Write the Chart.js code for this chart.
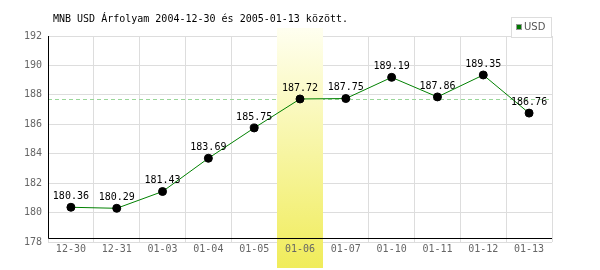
<!DOCTYPE html>
<html>
<head>
<meta charset="utf-8">
<script src="https://cdn.jsdelivr.net/npm/chart.js@4/dist/chart.umd.min.js"></script>
<style>
  html, body { margin: 0; padding: 0; background: #fff; }
  canvas { display: block; }
</style>
</head>
<body>
<canvas id="rateChart" width="600" height="270"></canvas>
<script>
// chart data
const titleText = 'MNB USD Árfolyam 2004-12-30 és 2005-01-13 között.';
const seriesName = 'USD';
const dates = ['12-30', '12-31', '01-03', '01-04', '01-05', '01-06', '01-07', '01-10', '01-11', '01-12', '01-13'];
const rates = [180.36, 180.29, 181.43, 183.69, 185.75, 187.72, 187.75, 189.19, 187.86, 189.35, 186.76];
const yTicks = [178, 180, 182, 184, 186, 188, 190, 192];
const refRate = 187.72;      // dashed reference line
const highlightIndex = 5;    // 01-06 column

const MONO = '"DejaVu Sans Mono", monospace';

// background / decorations drawn by hand
const decorations = {
    id: 'decorations',
    beforeDatasetsDraw(chart) {
        const { ctx, chartArea, scales } = chart;
        const x = scales.x, y = scales.y;

        // dashed reference line
        const ry = y.getPixelForValue(refRate);
        ctx.save();
        ctx.strokeStyle = '#99d699';
        ctx.lineWidth = 1;
        ctx.setLineDash([4, 3]);
        ctx.beginPath();
        ctx.moveTo(chartArea.left, Math.round(ry) + 0.5);
        ctx.lineTo(chartArea.right, Math.round(ry) + 0.5);
        ctx.stroke();
        ctx.restore();

        // highlighted column
        const cw = (chartArea.right - chartArea.left) / dates.length;
        const cx = x.getPixelForValue(highlightIndex);
        const left = Math.round(cx - cw / 2), w = Math.round(cw);
        const top = 28, bottom = chart.height - 2;
        const g = ctx.createLinearGradient(0, top, 0, bottom);
        g.addColorStop(0, 'rgba(255,255,240,1)');
        g.addColorStop(1, 'rgba(240,236,90,1)');
        ctx.save();
        ctx.fillStyle = g;
        ctx.fillRect(left, top, w, bottom - top);
        // redraw the tick label on top of the highlight
        ctx.beginPath();
        ctx.rect(left, top, w, bottom - top);
        ctx.clip();
        x.drawLabels(chartArea);
        ctx.restore();

        // black axis lines
        const axisY = chartArea.bottom - 4;
        ctx.save();
        ctx.strokeStyle = '#000';
        ctx.lineWidth = 1;
        ctx.beginPath();
        ctx.moveTo(chartArea.left + 0.5, chartArea.top);
        ctx.lineTo(chartArea.left + 0.5, axisY + 0.5);
        ctx.lineTo(chartArea.right, axisY + 0.5);
        ctx.stroke();
        ctx.restore();
    },
    afterDatasetsDraw(chart) {
        const { ctx } = chart;
        const meta = chart.getDatasetMeta(0);
        ctx.save();
        ctx.font = '10px ' + MONO;
        ctx.fillStyle = '#000';
        ctx.textAlign = 'center';
        ctx.textBaseline = 'middle';
        meta.data.forEach((pt, i) => {
            ctx.fillText(rates[i].toFixed(2), pt.x, pt.y - 11);
        });
        ctx.restore();
    },
    afterDraw(chart) {
        const { ctx, chartArea } = chart;
        ctx.save();
        // title
        ctx.font = '10px ' + MONO;
        ctx.fillStyle = '#000';
        ctx.textBaseline = 'middle';
        ctx.fillText(titleText, chartArea.left + 5, 19);
        // legend box
        const lx = chartArea.right - 41, ly = 17;
        ctx.fillStyle = '#fff';
        ctx.fillRect(lx, ly, 41, 20);
        ctx.strokeStyle = '#ddd';
        ctx.strokeRect(lx + 0.5, ly + 0.5, 40, 20);
        ctx.fillStyle = '#007700';
        ctx.fillRect(lx + 5, ly + 7, 6, 6);
        ctx.strokeStyle = '#999';
        ctx.strokeRect(lx + 5.5, ly + 7.5, 5, 5);
        ctx.font = '10px "DejaVu Sans", sans-serif';
        ctx.fillStyle = '#555';
        ctx.fillText(seriesName, lx + 13, ly + 10.5);
        ctx.restore();
    }
};

const ctx = document.getElementById('rateChart').getContext('2d');
const chart = new Chart(ctx, {
    type: 'line',
    data: {
        labels: dates,
        datasets: [{
            label: seriesName,
            data: rates,
            borderColor: '#008000',
            borderWidth: 1,
            tension: 0,
            fill: false,
            pointRadius: 4,
            pointBackgroundColor: '#000',
            pointBorderColor: '#000',
            pointBorderWidth: 1,
        }]
    },
    options: {
        responsive: false,
        animation: false,
        devicePixelRatio: 1,
        layout: { padding: { top: 36, right: 48, left: 0, bottom: 0 } },
        plugins: {
            legend: { display: false },
            title: { display: false },
            tooltip: { enabled: false }
        },
        scales: {
            x: {
                offset: true,
                grid: { color: '#ddd', offset: true, drawTicks: false },
                border: { display: false },
                ticks: { color: '#666', font: { family: MONO, size: 10 }, padding: 1, maxRotation: 0 },
                afterFit: (s) => { s.height = 28; }
            },
            y: {
                min: 178,
                max: 192,
                afterBuildTicks: (s) => { s.ticks = yTicks.map(v => ({ value: v })); },
                grid: { color: '#ddd', drawTicks: false },
                border: { display: false },
                ticks: { color: '#666', font: { family: MONO, size: 10 }, padding: 6 },
                afterFit: (s) => { s.width = 48; }
            }
        }
    },
    plugins: [decorations]
});
</script>
</body>
</html>
